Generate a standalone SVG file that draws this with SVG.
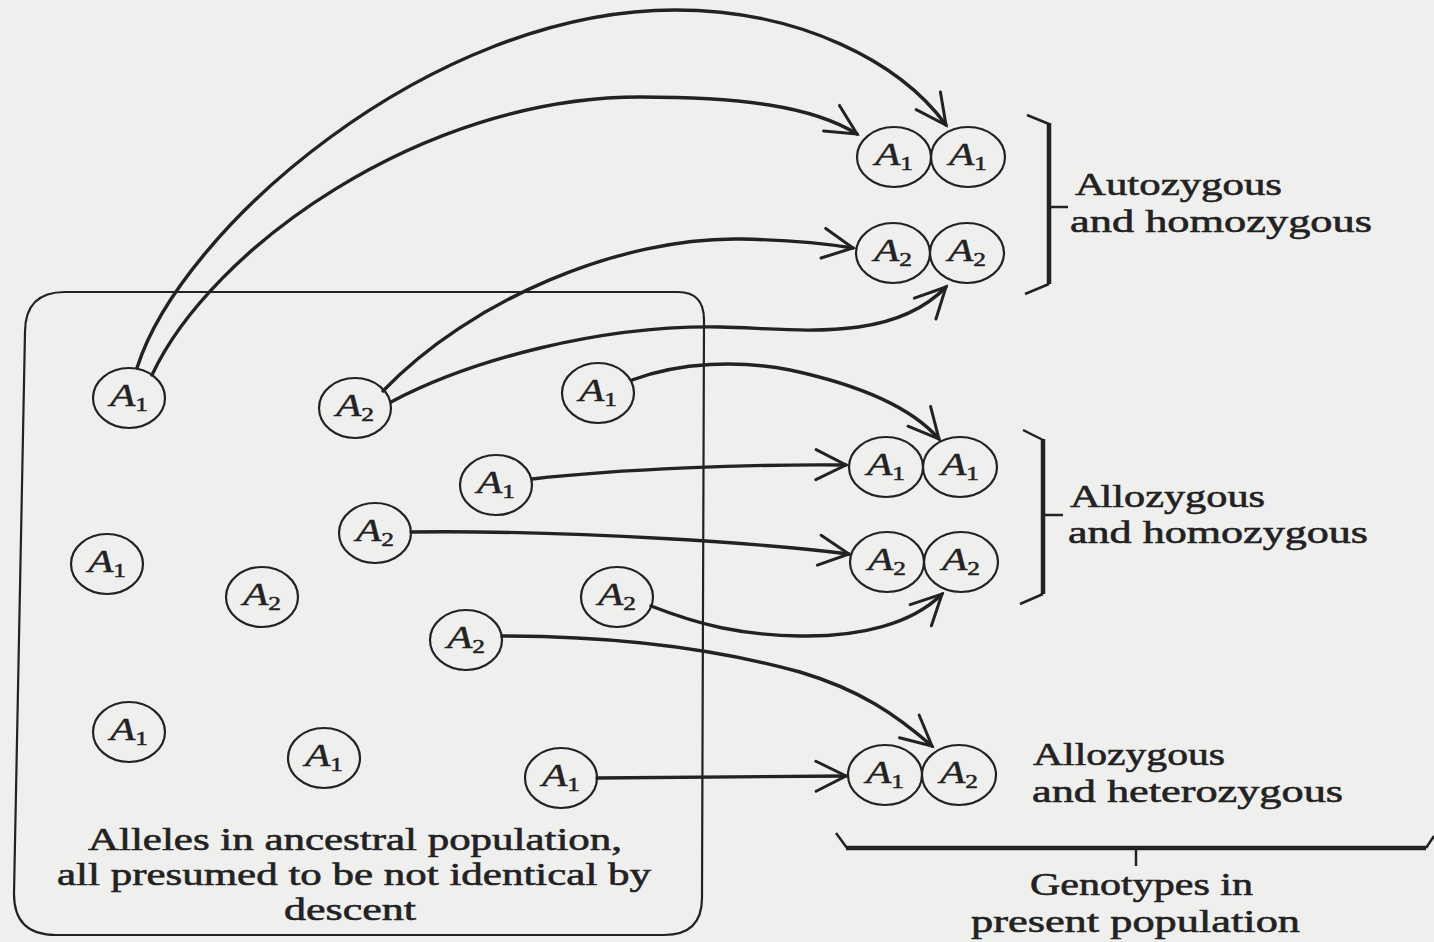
<svg xmlns="http://www.w3.org/2000/svg" width="1434" height="942" viewBox="0 0 1434 942">
<style>
.bg{fill:#efefee}
.n{fill:none;stroke:#222;stroke-width:2.2}
.al{font-family:"Liberation Serif",serif;font-style:italic;font-size:31px;fill:#222;stroke:#222;stroke-width:0.5;text-anchor:middle}
.sub{font-size:19px;font-style:normal}
.lbl{font-family:"Liberation Serif",serif;font-size:32px;fill:#222;stroke:#222;stroke-width:0.6}
.arr{fill:none;stroke:#222;stroke-width:3.4;stroke-linecap:round;marker-end:url(#ah)}
.br{fill:none;stroke:#222;stroke-width:4.5;stroke-linejoin:miter}
.bt{fill:none;stroke:#222;stroke-width:2.5}
.box{fill:none;stroke:#222;stroke-width:2.2}
</style>
<defs>
<marker id="ah" markerUnits="userSpaceOnUse" orient="auto" refX="0" refY="0" markerWidth="40" markerHeight="40" viewBox="-34 -20 40 40" overflow="visible">
<path d="M-30,-15 L0,0 L-30,15" fill="none" stroke="#222" stroke-width="3" stroke-linecap="round" stroke-linejoin="miter"/>
</marker>
</defs>
<rect class="bg" x="0" y="0" width="1434" height="942"/>

<g id="ancestral-box">
<path class="box" d="M65,292 L678,292 Q704,292 704,320 L702,898 Q702,935 664,935 L56,935 Q14,935 14,894 L25,332 Q25,292 65,292 Z"/>
<text class="lbl" x="88" y="850" textLength="534" lengthAdjust="spacingAndGlyphs">Alleles in ancestral population,</text>
<text class="lbl" x="57" y="885" textLength="594" lengthAdjust="spacingAndGlyphs">all presumed to be not identical by</text>
<text class="lbl" x="284" y="920" textLength="132" lengthAdjust="spacingAndGlyphs">descent</text>
</g>

<g id="connectors">
<path class="arr" d="M137,368 C180,230 430,10 675,10 C800,10 900,62 946,125"/>
<path class="arr" d="M152,375 C210,250 420,97 640,97 C740,97 812,106 857,134"/>
<path class="arr" d="M383,391 C470,300 620,237 740,239 C790,240 822,243 853,248"/>
<path class="arr" d="M391,402 C470,360 600,325 720,327 C790,328 890,345 946,287"/>
<path class="arr" d="M632,380 C680,362 740,360 790,370 C860,385 912,408 939,439"/>
<path class="arr" d="M532,479 C620,469 750,464 846,465"/>
<path class="arr" d="M411,532 C580,530 770,544 849,554"/>
<path class="arr" d="M651,606 C700,625 740,635 800,636 C860,637 912,624 942,594"/>
<path class="arr" d="M502,636 C620,636 720,650 800,672 C860,690 895,714 932,746"/>
<path class="arr" d="M597,778 L846,776"/>
</g>

<g id="src1"><ellipse class="n" cx="129" cy="398" rx="36" ry="30"/><text class="al" x="129" y="406" textLength="38" lengthAdjust="spacingAndGlyphs">A<tspan class="sub" dy="5">1</tspan></text></g>
<g id="src2"><ellipse class="n" cx="355" cy="408" rx="36" ry="30"/><text class="al" x="355" y="416" textLength="38" lengthAdjust="spacingAndGlyphs">A<tspan class="sub" dy="5">2</tspan></text></g>
<g id="src3"><ellipse class="n" cx="598" cy="393" rx="36" ry="30"/><text class="al" x="598" y="401" textLength="38" lengthAdjust="spacingAndGlyphs">A<tspan class="sub" dy="5">1</tspan></text></g>
<g id="src4"><ellipse class="n" cx="496" cy="485" rx="36" ry="30"/><text class="al" x="496" y="493" textLength="38" lengthAdjust="spacingAndGlyphs">A<tspan class="sub" dy="5">1</tspan></text></g>
<g id="src5"><ellipse class="n" cx="375" cy="533" rx="36" ry="30"/><text class="al" x="375" y="541" textLength="38" lengthAdjust="spacingAndGlyphs">A<tspan class="sub" dy="5">2</tspan></text></g>
<g id="src6"><ellipse class="n" cx="107" cy="564" rx="36" ry="30"/><text class="al" x="107" y="572" textLength="38" lengthAdjust="spacingAndGlyphs">A<tspan class="sub" dy="5">1</tspan></text></g>
<g id="src7"><ellipse class="n" cx="262" cy="597" rx="36" ry="30"/><text class="al" x="262" y="605" textLength="38" lengthAdjust="spacingAndGlyphs">A<tspan class="sub" dy="5">2</tspan></text></g>
<g id="src8"><ellipse class="n" cx="617" cy="597" rx="36" ry="30"/><text class="al" x="617" y="605" textLength="38" lengthAdjust="spacingAndGlyphs">A<tspan class="sub" dy="5">2</tspan></text></g>
<g id="src9"><ellipse class="n" cx="466" cy="640" rx="36" ry="30"/><text class="al" x="466" y="648" textLength="38" lengthAdjust="spacingAndGlyphs">A<tspan class="sub" dy="5">2</tspan></text></g>
<g id="src10"><ellipse class="n" cx="129" cy="732" rx="36" ry="30"/><text class="al" x="129" y="740" textLength="38" lengthAdjust="spacingAndGlyphs">A<tspan class="sub" dy="5">1</tspan></text></g>
<g id="src11"><ellipse class="n" cx="324" cy="758" rx="36" ry="30"/><text class="al" x="324" y="766" textLength="38" lengthAdjust="spacingAndGlyphs">A<tspan class="sub" dy="5">1</tspan></text></g>
<g id="src12"><ellipse class="n" cx="561" cy="778" rx="36" ry="30"/><text class="al" x="561" y="786" textLength="38" lengthAdjust="spacingAndGlyphs">A<tspan class="sub" dy="5">1</tspan></text></g>

<g id="geno-auto-11">
<ellipse class="n" cx="894" cy="157" rx="37" ry="30"/><text class="al" x="894" y="165" textLength="38" lengthAdjust="spacingAndGlyphs">A<tspan class="sub" dy="5">1</tspan></text>
<ellipse class="n" cx="968" cy="157" rx="37" ry="30"/><text class="al" x="968" y="165" textLength="38" lengthAdjust="spacingAndGlyphs">A<tspan class="sub" dy="5">1</tspan></text>
</g>
<g id="geno-auto-22">
<ellipse class="n" cx="893" cy="253" rx="37" ry="30"/><text class="al" x="893" y="261" textLength="38" lengthAdjust="spacingAndGlyphs">A<tspan class="sub" dy="5">2</tspan></text>
<ellipse class="n" cx="967" cy="253" rx="37" ry="30"/><text class="al" x="967" y="261" textLength="38" lengthAdjust="spacingAndGlyphs">A<tspan class="sub" dy="5">2</tspan></text>
</g>
<g id="geno-allo-11">
<ellipse class="n" cx="886" cy="467" rx="37" ry="30"/><text class="al" x="886" y="475" textLength="38" lengthAdjust="spacingAndGlyphs">A<tspan class="sub" dy="5">1</tspan></text>
<ellipse class="n" cx="960" cy="467" rx="37" ry="30"/><text class="al" x="960" y="475" textLength="38" lengthAdjust="spacingAndGlyphs">A<tspan class="sub" dy="5">1</tspan></text>
</g>
<g id="geno-allo-22">
<ellipse class="n" cx="887" cy="562" rx="37" ry="30"/><text class="al" x="887" y="570" textLength="38" lengthAdjust="spacingAndGlyphs">A<tspan class="sub" dy="5">2</tspan></text>
<ellipse class="n" cx="961" cy="562" rx="37" ry="30"/><text class="al" x="961" y="570" textLength="38" lengthAdjust="spacingAndGlyphs">A<tspan class="sub" dy="5">2</tspan></text>
</g>
<g id="geno-allo-12">
<ellipse class="n" cx="885" cy="775" rx="37" ry="30"/><text class="al" x="885" y="783" textLength="38" lengthAdjust="spacingAndGlyphs">A<tspan class="sub" dy="5">1</tspan></text>
<ellipse class="n" cx="959" cy="775" rx="37" ry="30"/><text class="al" x="959" y="783" textLength="38" lengthAdjust="spacingAndGlyphs">A<tspan class="sub" dy="5">2</tspan></text>
</g>

<g id="label-autozygous">
<path class="bt" d="M1027,115 L1049,124"/>
<path class="br" d="M1049,123 L1049,284"/>
<path class="bt" d="M1049,284 L1025,294"/>
<path class="bt" d="M1049,207 L1068,207"/>
<text class="lbl" x="1075" y="195" textLength="207" lengthAdjust="spacingAndGlyphs">Autozygous</text>
<text class="lbl" x="1070" y="232" textLength="302" lengthAdjust="spacingAndGlyphs">and homozygous</text>
</g>
<g id="label-allo-homo">
<path class="bt" d="M1023,430 L1043,440"/>
<path class="br" d="M1043,439 L1043,594"/>
<path class="bt" d="M1043,594 L1020,604"/>
<path class="bt" d="M1043,515 L1063,515"/>
<text class="lbl" x="1070" y="507" textLength="195" lengthAdjust="spacingAndGlyphs">Allozygous</text>
<text class="lbl" x="1068" y="543" textLength="300" lengthAdjust="spacingAndGlyphs">and homozygous</text>
</g>
<g id="label-allo-hetero">
<text class="lbl" x="1033" y="765" textLength="192" lengthAdjust="spacingAndGlyphs">Allozygous</text>
<text class="lbl" x="1032" y="802" textLength="311" lengthAdjust="spacingAndGlyphs">and heterozygous</text>
</g>
<g id="label-genotypes">
<path class="bt" d="M836,833 L847,848"/>
<path class="br" d="M846,848 L1426,848"/>
<path class="bt" d="M1426,848 L1434,836"/>
<path class="bt" d="M1136,848 L1136,866"/>
<text class="lbl" x="1030" y="895" textLength="223" lengthAdjust="spacingAndGlyphs">Genotypes in</text>
<text class="lbl" x="971" y="932" textLength="329" lengthAdjust="spacingAndGlyphs">present population</text>
</g>
</svg>
